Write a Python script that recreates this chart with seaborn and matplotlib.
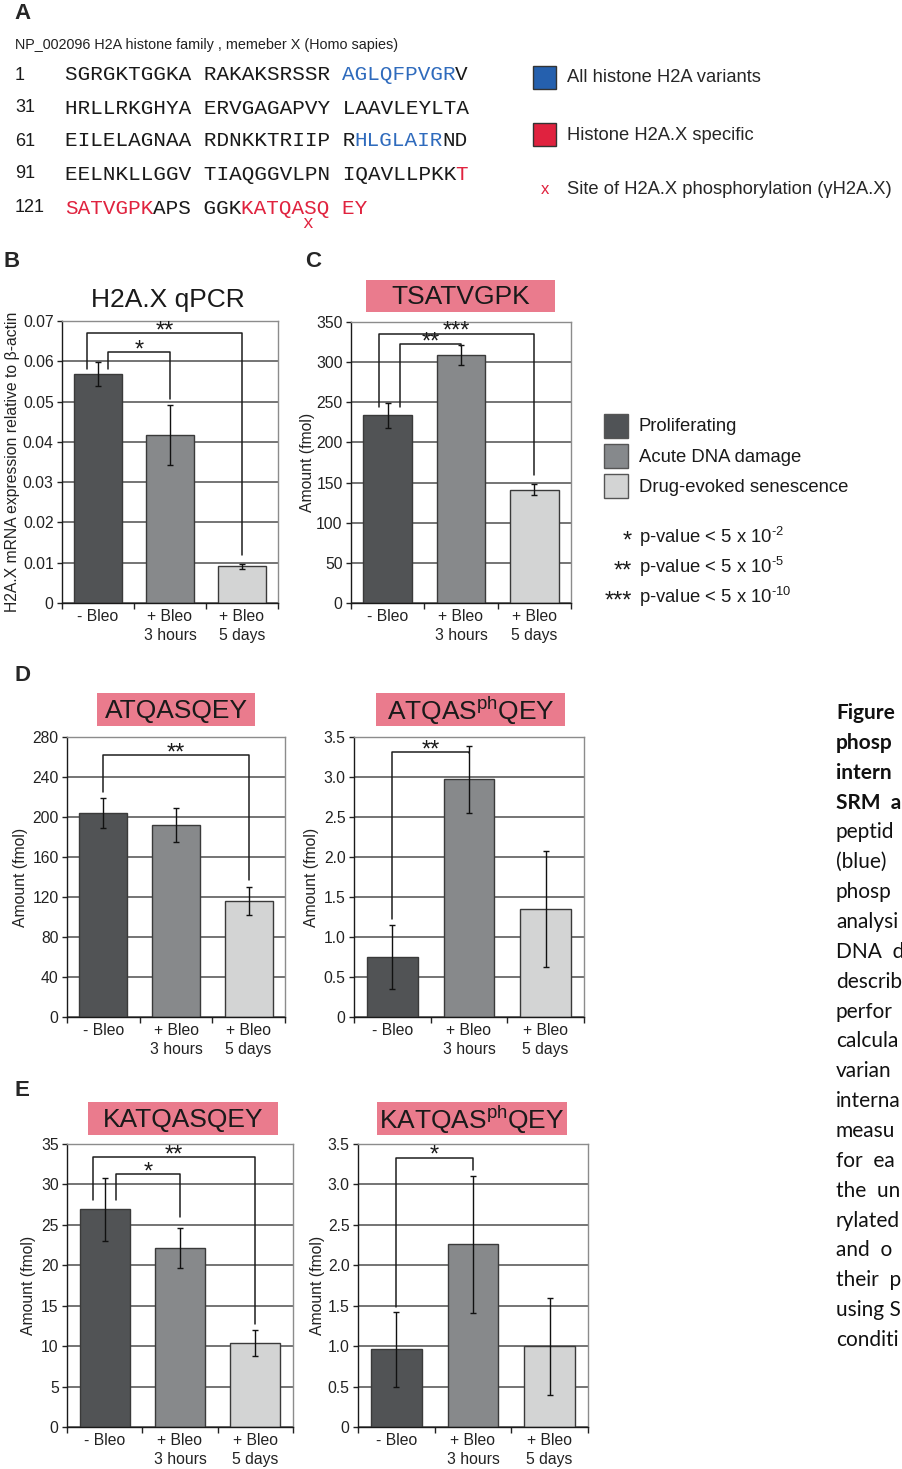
import numpy as np
import pandas as pd
import matplotlib
matplotlib.use("Agg")
import matplotlib.pyplot as plt
from matplotlib.patches import Rectangle
from matplotlib.ticker import FixedLocator, FixedFormatter
import seaborn as sns

sns.set_style("ticks")
plt.rcParams["font.family"] = ["Liberation Sans", "DejaVu Sans"]
plt.rcParams["mathtext.fontset"] = "custom"
plt.rcParams["mathtext.rm"] = "Liberation Sans"
plt.rcParams["mathtext.it"] = "Liberation Sans:italic"
plt.rcParams["mathtext.bf"] = "Liberation Sans:bold"

W, H = 903, 1469

# ---------------- data ----------------
treatments = ["- Bleo", "+ Bleo\n3 hours", "+ Bleo\n5 days"]
conditions = ["Proliferating", "Acute DNA damage", "Drug-evoked senescence"]
bar_colors = ["#505356", "#86898c", "#d3d4d4"]

qpcr_mean = [0.0568, 0.0417, 0.0091]
qpcr_sd = [0.0030, 0.0075, 0.0006]
qpcr_ticks = [0, 0.01, 0.02, 0.03, 0.04, 0.05, 0.06, 0.07]
qpcr_ticklabels = ["0", "0.01", "0.02", "0.03", "0.04", "0.05", "0.06", "0.07"]

tsatvgpk_mean = [234, 309, 141]
tsatvgpk_sd = [15.5, 12, 7]
tsatvgpk_ticks = [0, 50, 100, 150, 200, 250, 300, 350]

atqasqey_mean = [204, 192, 116]
atqasqey_sd = [15, 17, 14]
atqasqey_ticks = [0, 40, 80, 120, 160, 200, 240, 280]

atqas_ph_mean = [0.75, 2.97, 1.35]
atqas_ph_sd = [0.40, 0.42, 0.73]

katqasqey_mean = [26.9, 22.1, 10.4]
katqasqey_sd = [3.85, 2.45, 1.65]
katqasqey_ticks = [0, 5, 10, 15, 20, 25, 30, 35]

katqas_ph_mean = [0.96, 2.26, 1.00]
katqas_ph_sd = [0.46, 0.85, 0.60]

ph_ticks = [0, 0.5, 1.0, 1.5, 2.0, 2.5, 3.0, 3.5]
ph_ticklabels = ["0", "0.5", "1.0", "1.5", "2.0", "2.5", "3.0", "3.5"]

# significance brackets: (x_left, y_left, y_top, x_right, y_right, stars)
qpcr_sig = [(-0.15, 0.058, 0.0669, 2.0, 0.0118, "**"),
            (0.14, 0.058, 0.0622, 1.0, 0.0507, "*")]
tsatvgpk_sig = [(-0.12, 244, 335.5, 2.0, 159, "***"),
                (0.17, 244, 322, 1.0, 320, "**")]
atqasqey_sig = [(0.0, 225, 261.7, 2.0, 136.7, "**")]
atqas_ph_sig = [(0.0, 1.23, 3.31, 1.0, 3.30, "**")]
katqasqey_sig = [(-0.16, 28.1, 33.35, 2.0, 12.8, "**"),
                 (0.15, 28.1, 31.3, 1.0, 26.0, "*")]
katqas_ph_sig = [(0.0, 1.49, 3.33, 1.0, 3.18, "*")]

# sequence of H2A.X (NP_002096) split into coloured segments
residue_starts = [1, 31, 61, 91, 121]
seq_rows = [
    [("SGRGKTGGKA RAKAKSRSSR ", "k"), ("AGLQFPVGR", "b"), ("V", "k")],
    [("HRLLRKGHYA ERVGAGAPVY LAAVLEYLTA", "k")],
    [("EILELAGNAA RDNKKTRIIP R", "k"), ("HLGLAIR", "b"), ("ND", "k")],
    [("EELNKLLGGV TIAQGGVLPN IQAVLLPKK", "k"), ("T", "r")],
    [("SATVGPK", "r"), ("APS GGK", "k"), ("KATQASQ EY", "r")],
]
phospho_site_col = 19  # S139 within the last row
seq_colors = {"k": "#1a1a1a", "b": "#2f6bbd", "r": "#e0233f"}

# legend text at the right edge of the page
caption_bold = ["Figure", "phosp", "intern", "SRM  a"]
caption_body = ["peptid", "(blue)", "phosp", "analysi", "DNA  d",
                "describ", "perfor", "calcula", "varian", "interna",
                "measu", "for  ea", "the  un", "rylated", "and  o",
                "their  p", "using S", "conditi"]

pink = "#ea7b8d"

fig = plt.figure(figsize=(W / 100, H / 100), dpi=100)
fig.patch.set_facecolor("white")


def fx(x):
    return x / W


def fy(y):
    return 1 - y / H


def px_rect(l, t, r, b):
    return [l / W, 1 - b / H, (r - l) / W, (b - t) / H]


def box(x0, y0, x1, y1, face, edge="none", lw=0.0):
    fig.add_artist(Rectangle((fx(x0), fy(y1)), (x1 - x0) / W, (y1 - y0) / H,
                             transform=fig.transFigure, facecolor=face,
                             edgecolor=edge, linewidth=lw))


def panel_letter(x, y, s):
    fig.text(fx(x), fy(y), s, fontsize=16, fontweight="bold", ha="left", va="top")


def title_box(x0, y0, x1, y1, s):
    box(x0, y0, x1, y1, pink)
    fig.text(fx((x0 + x1) / 2), fy((y0 + y1) / 2 + 1), s, fontsize=19,
             ha="center", va="center", color="#1a1a1a")


def bar_panel(rect, mean, sd, ticks, ticklabels, ylabel, ylabel_x, sig):
    l, t, r, b = rect
    ax = fig.add_axes(px_rect(l, t, r, b))
    df = pd.DataFrame({"treatment": treatments, "value": mean})
    sns.barplot(data=df, x="treatment", y="value", hue="treatment",
                order=treatments, hue_order=treatments, palette=bar_colors,
                width=0.66, edgecolor="#3a3a3a", linewidth=1.0,
                errorbar=None, legend=False, ax=ax)
    ax.errorbar(np.arange(len(mean)), mean, yerr=sd, fmt="none",
                ecolor="#111111", elinewidth=1.0, capsize=2.2, capthick=1.0,
                zorder=3)
    ax.set_xlim(-0.5, 2.5)
    ax.set_ylim(ticks[0], ticks[-1])
    ax.yaxis.set_major_locator(FixedLocator(ticks))
    ax.yaxis.set_major_formatter(FixedFormatter(ticklabels))
    ax.yaxis.grid(True, color="#4e4e4e", lw=1.1)
    ax.xaxis.grid(False)
    ax.set_axisbelow(True)
    ax.set_xlabel("")
    ax.set_ylabel("")
    ax.set_xticks([0, 1, 2])
    ax.set_xticklabels(treatments, fontsize=11.3, color="#222222", linespacing=1.3)
    ax.set_xticks([-0.5, 0.5, 1.5, 2.5], minor=True)
    ax.tick_params(axis="x", which="major", length=0, pad=4.5)
    ax.tick_params(axis="x", which="minor", length=4, width=1, direction="out",
                   color="#222222")
    ax.tick_params(axis="y", which="major", length=3.5, width=1, direction="out",
                   labelsize=11.3, labelcolor="#222222", pad=2.5, color="#222222")
    for s in ("top", "right"):
        ax.spines[s].set_color("#8c8c8c")
        ax.spines[s].set_linewidth(1.0)
    for s in ("left", "bottom"):
        ax.spines[s].set_color("#1a1a1a")
        ax.spines[s].set_linewidth(1.0)
    for x1, y1, ytop, x2, y2, stars in sig:
        ax.plot([x1, x1, x2, x2], [y1, ytop, ytop, y2], color="#1e1e1e",
                lw=1.1, clip_on=False, zorder=4)
        ax.annotate(stars, xy=((x1 + x2) / 2, ytop), xytext=(0, -3.0),
                    textcoords="offset points", ha="center", va="baseline",
                    fontsize=17, color="#1a1a1a", zorder=5)
    fig.text(fx(ylabel_x), fy((t + b) / 2), ylabel, rotation=90, fontsize=11.3,
             ha="center", va="center", color="#222222")
    return ax


# ---------------- panel A ----------------
panel_letter(14, 3, "A")
fig.text(fx(15), fy(45), "NP_002096 H2A histone family , memeber X (Homo sapies)",
         fontsize=10.4, ha="left", va="center", color="#222222")
mono_size = 15.1
char_px = mono_size * 100 / 72 * 0.6
row_y = [75, 108, 141, 174, 208]
for start, segs, y in zip(residue_starts, seq_rows, row_y):
    fig.text(fx(15), fy(y), str(start), fontsize=13, ha="left", va="center",
             color="#1a1a1a")
    col = 0
    for text, c in segs:
        fig.text(fx(65 + col * char_px), fy(y), text, family="Liberation Mono",
                 fontsize=mono_size, ha="left", va="center", color=seq_colors[c])
        col += len(text)
fig.text(fx(62 + (phospho_site_col + 0.5) * char_px), fy(224), "x",
         family="Liberation Mono", fontsize=13, ha="center", va="center",
         color=seq_colors["r"])

box(533, 66, 556, 89, "#2560ae", "#333333", 1.0)
box(533, 123, 556, 146, "#e0223f", "#333333", 1.0)
fig.text(fx(567), fy(78), "All histone H2A variants", fontsize=13.2, va="center")
fig.text(fx(567), fy(135), "Histone H2A.X specific", fontsize=13.2, va="center")
fig.text(fx(545), fy(189), "x", fontsize=12, ha="center", va="center",
         color=seq_colors["r"])
fig.text(fx(567), fy(189), "Site of H2A.X phosphorylation (\u03b3H2A.X)",
         fontsize=13.2, va="center")

# ---------------- panels B and C ----------------
panel_letter(4, 251, "B")
panel_letter(305, 251, "C")
fig.text(fx(168), fy(300), "H2A.X qPCR", fontsize=19, ha="center", va="center",
         color="#1a1a1a")
bar_panel((62, 321, 278, 603), qpcr_mean, qpcr_sd, qpcr_ticks, qpcr_ticklabels,
          "H2A.X mRNA expression relative to \u03b2-actin", 13, qpcr_sig)
title_box(366, 280, 555, 312, "TSATVGPK")
bar_panel((351, 322, 571, 603), tsatvgpk_mean, tsatvgpk_sd, tsatvgpk_ticks,
          [str(v) for v in tsatvgpk_ticks], "Amount (fmol)", 308, tsatvgpk_sig)

# legend for conditions and p-values
leg_y = [414, 444, 474]
for c, name, y in zip(bar_colors, conditions, leg_y):
    box(604, y, 628, y + 24, c, "#555555", 1.0)
    fig.text(fx(639), fy(y + 13), name, fontsize=13.3, va="center", color="#1a1a1a")
p_stars = ["*", "**", "***"]
p_exps = ["-2", "-5", "-10"]
for s, e, y in zip(p_stars, p_exps, [537, 567, 597]):
    fig.text(fx(632), fy(y + 5), s, fontsize=17, ha="right", va="center",
             color="#1a1a1a")
    fig.text(fx(639), fy(y), "p-value < 5 x 10$^{\\text{%s}}$" % e, fontsize=13.3,
             va="center", color="#1a1a1a")

# ---------------- panel D ----------------
panel_letter(15, 665, "D")
title_box(97, 693, 255, 726, "ATQASQEY")
bar_panel((67, 737, 285, 1017), atqasqey_mean, atqasqey_sd, atqasqey_ticks,
          [str(v) for v in atqasqey_ticks], "Amount (fmol)", 21, atqasqey_sig)
title_box(376, 693, 565, 726, "ATQAS$^{\\mathrm{ph}}$QEY")
bar_panel((354, 737, 584, 1017), atqas_ph_mean, atqas_ph_sd, ph_ticks,
          ph_ticklabels, "Amount (fmol)", 312, atqas_ph_sig)

# ---------------- panel E ----------------
panel_letter(15, 1080, "E")
title_box(88, 1102, 278, 1135, "KATQASQEY")
bar_panel((67, 1144, 293, 1427), katqasqey_mean, katqasqey_sd, katqasqey_ticks,
          [str(v) for v in katqasqey_ticks], "Amount (fmol)", 29, katqasqey_sig)
title_box(377, 1102, 567, 1135, "KATQAS$^{\\mathrm{ph}}$QEY")
bar_panel((358, 1144, 588, 1427), katqas_ph_mean, katqas_ph_sd, ph_ticks,
          ph_ticklabels, "Amount (fmol)", 318, katqas_ph_sig)

# ---------------- figure legend text ----------------
line_y = 713.0
for s in caption_bold:
    fig.text(fx(836), fy(line_y), s, family="Lato", fontsize=15,
             fontweight="bold", ha="left", va="center", color="#111111")
    line_y += 29.86
for s in caption_body:
    fig.text(fx(836), fy(line_y), s, family="Lato", fontsize=15,
             ha="left", va="center", color="#111111")
    line_y += 29.86

fig.savefig("out.png", dpi=100, facecolor="white")
